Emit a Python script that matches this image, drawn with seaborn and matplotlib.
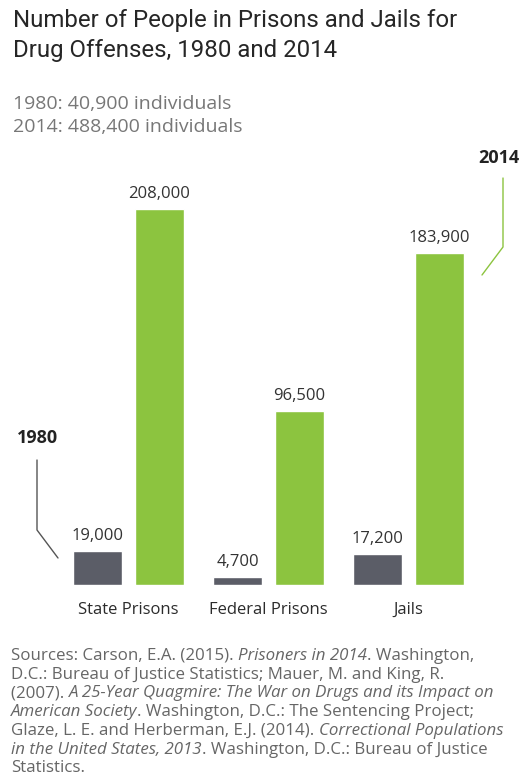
import pandas as pd
import matplotlib
matplotlib.use("Agg")
import matplotlib.pyplot as plt
from matplotlib.lines import Line2D
import seaborn as sns

# Data
categories = ["State Prisons", "Federal Prisons", "Jails"]
years = ["1980", "2014"]
counts_1980 = [19000, 4700, 17200]
counts_2014 = [208000, 96500, 183900]
totals = {"1980": "40,900", "2014": "488,400"}

DARK = "#5b5d67"
GREEN = "#8cc43f"
W, H = 525, 778

df = pd.DataFrame({
    "facility": categories * 2,
    "year": [years[0]] * 3 + [years[1]] * 3,
    "count": counts_1980 + counts_2014,
})

sns.set_style("white")
plt.rcParams["font.family"] = ["Open Sans", "DejaVu Sans"]

fig = plt.figure(figsize=(W / 100, H / 100), dpi=100)
fig.patch.set_facecolor("white")


def fx(x):
    return x / W


def fy(y):
    return 1 - y / H


# axes placed so the baseline sits at y=585px, top at 140px
ax = fig.add_axes([0, fy(585), 1, (585 - 140) / H])
sns.barplot(data=df, x="facility", y="count", hue="year", palette=[DARK, GREEN],
            width=0.886, gap=0.21, saturation=1, legend=False, ax=ax)
ax.set_xlim(-128.5 / 140, (W - 128.5) / 140)
ax.set_ylim(0, (585 - 140) / 1.808 * 1000)
sns.despine(ax=ax, left=True, bottom=True)
ax.set_yticks([])
ax.set_xlabel("")
ax.set_ylabel("")
ax.tick_params(axis="x", length=0, pad=12, labelsize=12, labelcolor="#2b2b2b")
ax.patch.set_alpha(0)

for cont in ax.containers:
    ax.bar_label(cont, labels=[f"{int(b.get_height()):,}" for b in cont],
                 padding=5, fontsize=12, color="#333333")

# Titles
fig.text(fx(13), fy(21), "Number of People in Prisons and Jails for",
         family="Roboto", fontsize=17.3, color="#262626", va="center")
fig.text(fx(13), fy(51), "Drug Offenses, 1980 and 2014",
         family="Roboto", fontsize=17.3, color="#262626", va="center")
fig.text(fx(13), fy(104), f"1980: {totals['1980']} individuals",
         fontsize=14, color="#777777", va="center")
fig.text(fx(13), fy(127), f"2014: {totals['2014']} individuals",
         fontsize=14, color="#777777", va="center")

# Year call-outs
fig.text(fx(38), fy(438), "1980", fontsize=13, fontweight="bold",
         color="#222222", ha="center", va="center")
fig.add_artist(Line2D([fx(37), fx(37), fx(58)], [fy(460), fy(530), fy(558)],
                      color="#555555", lw=1))
fig.text(fx(499), fy(158), "2014", fontsize=13, fontweight="bold",
         color="#222222", ha="center", va="center")
fig.add_artist(Line2D([fx(503), fx(503), fx(482)], [fy(178), fy(247), fy(275)],
                      color=GREEN, lw=1))

# Sources with mixed italic runs
source_lines = [
    [("Sources: Carson, E.A. (2015). ", "normal"), ("Prisoners in 2014", "italic"),
     (". Washington,", "normal")],
    [("D.C.: Bureau of Justice Statistics; Mauer, M. and King, R.", "normal")],
    [("(2007). ", "normal"),
     ("A 25-Year Quagmire: The War on Drugs and its Impact on", "italic")],
    [("American Society", "italic"), (". Washington, D.C.: The Sentencing Project;", "normal")],
    [("Glaze, L. E. and Herberman, E.J. (2014). ", "normal"),
     ("Correctional Populations", "italic")],
    [("in the United States, 2013", "italic"), (". Washington, D.C.: Bureau of Justice", "normal")],
    [("Statistics.", "normal")],
]
renderer = fig.canvas.get_renderer()
y0, dy = 656, 18.7
for i, runs in enumerate(source_lines):
    x = 11
    for txt, style in runs:
        t = fig.text(fx(x), fy(y0 + i * dy), txt, fontsize=12.2, style=style,
                     color="#666666", va="center")
        bb = t.get_window_extent(renderer)
        x += bb.width

fig.savefig("out.png", dpi=100, facecolor="white")
